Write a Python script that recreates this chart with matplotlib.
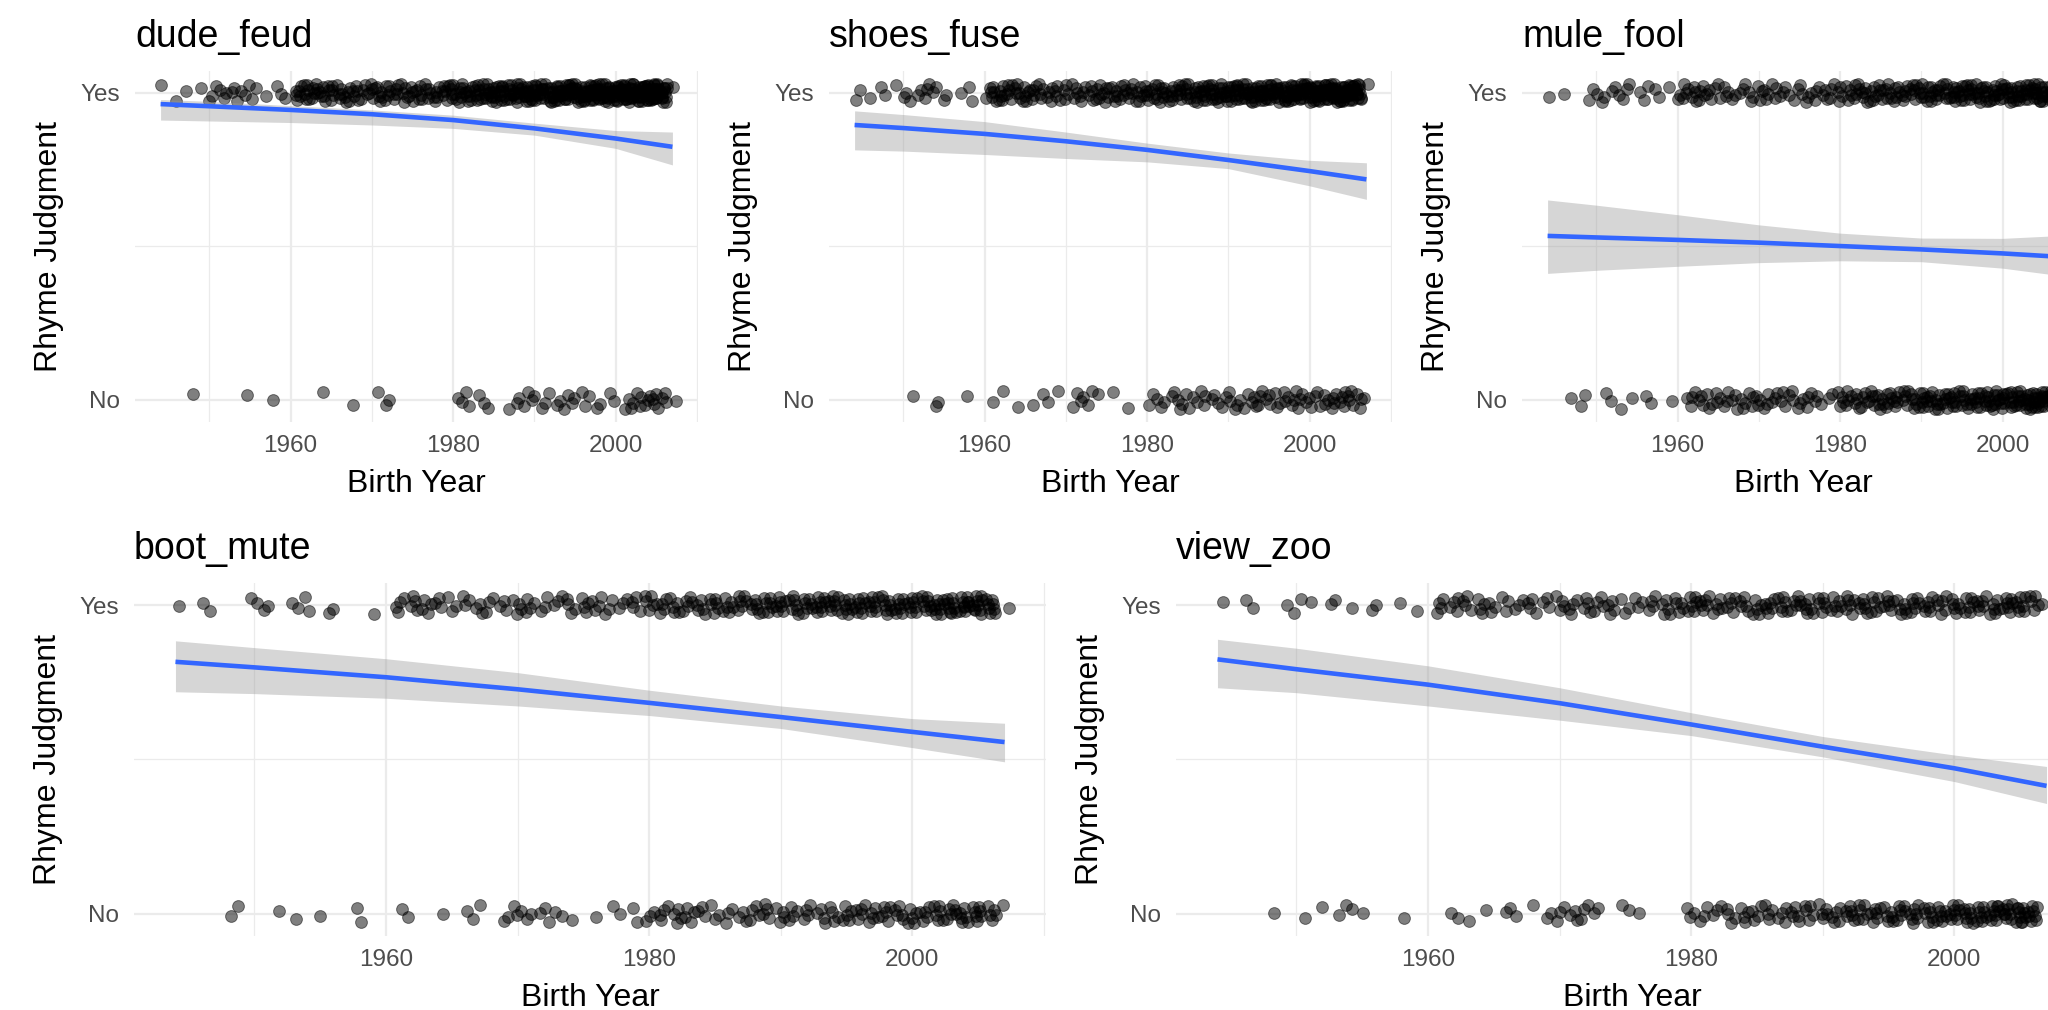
import numpy as np
import matplotlib
matplotlib.use("Agg")
import matplotlib.pyplot as plt
from matplotlib.ticker import FixedLocator, FixedFormatter

plt.rcParams['font.family'] = ['Liberation Sans', 'DejaVu Sans']

# ---------------- data ----------------
years = list(range(1944, 2008))          # birth-year categories (1944 ... 2007)
panels = ["dude_feud", "shoes_fuse", "mule_fool", "boot_mute", "view_zoo"]

# number of "Yes" / "No" answers per birth year (read from the jittered points)
dude_feud_yes = [1,0,1,1,0,1,2,2,2,3,2,2,1,1,1,2,0,
                 6,6,6,5,6,5,5,5,4,5,5,5,5,5,5,5,5,5,6,
                 7,7,7,8,8,9,9,9,9,10,10,10,10,11,11,11,11,12,12,12,
                 12,13,13,14,15,16,12,1]
dude_feud_no = [0,0,0,0,1,0,0,0,0,0,0,1,0,0,1,0,0,
                0,0,0,1,0,0,0,1,0,0,1,2,0,0,0,0,0,0,0,
                0,2,2,1,2,0,0,1,2,2,2,2,1,2,2,2,2,1,2,1,
                1,1,3,3,3,4,3,1]

shoes_fuse_yes = [1,1,1,1,1,1,2,1,2,3,2,2,0,1,2,0,1,
                  6,6,5,5,5,5,4,4,4,4,4,4,4,5,5,5,5,5,5,
                  6,6,6,6,7,7,7,8,8,8,9,9,9,9,10,10,10,10,11,11,
                  11,12,12,13,14,15,11,1]
shoes_fuse_no = [0,0,0,0,0,0,0,1,0,0,2,0,0,0,1,0,0,
                 1,1,0,1,0,1,1,1,1,0,2,2,2,1,0,1,0,1,0,
                 1,2,2,2,3,2,2,3,2,2,3,3,2,3,3,3,3,3,3,3,
                 3,3,3,4,4,4,3,1]

mule_fool_yes = [1,0,1,0,0,1,2,2,2,2,2,1,2,1,1,1,2,
                 4,4,4,3,3,3,2,3,3,3,3,3,3,2,3,3,3,3,3,
                 4,4,5,5,5,5,5,5,5,6,6,6,6,6,7,7,7,7,7,7,
                 7,8,8,8,9,9,7,1]
mule_fool_no = [0,0,0,1,1,1,0,1,1,1,1,0,1,1,0,1,0,
                1,3,3,3,3,3,3,3,3,3,3,3,3,3,3,3,2,1,2,
                4,4,4,4,5,5,5,5,5,5,6,6,6,6,6,6,6,7,7,7,
                7,7,8,8,9,9,7,1]

boot_mute_yes = [1,0,1,1,0,0,2,2,0,2,2,0,2,0,0,1,0,
                 4,4,4,3,3,3,3,3,3,4,4,3,3,4,4,4,3,3,4,
                 5,5,5,5,5,6,6,6,6,7,7,7,7,8,8,8,8,8,8,8,
                 8,8,9,9,10,10,8,1]
boot_mute_no = [0,0,0,0,1,1,0,0,1,1,0,1,0,0,2,0,0,
                1,1,0,1,0,1,2,0,2,3,2,3,2,1,0,1,1,1,2,
                3,4,4,4,3,3,3,3,4,4,4,4,4,4,4,5,5,5,5,5,
                5,5,6,6,6,7,5,1]

view_zoo_yes = [1,0,1,1,0,1,2,1,0,2,1,0,2,0,1,1,0,
                4,4,4,4,3,3,3,4,3,4,4,4,4,4,3,3,4,5,5,
                6,6,5,5,5,5,6,6,6,6,6,6,6,6,6,6,6,6,6,6,
                6,6,6,6,7,7,5,1]
view_zoo_no = [0,0,0,0,1,0,0,1,1,1,2,1,0,0,1,0,0,
               0,2,1,1,0,2,1,1,2,3,3,3,2,0,2,1,0,0,0,
               3,3,3,4,4,4,4,4,5,5,5,5,6,6,6,6,6,7,7,7,
               8,8,8,9,9,10,8,0]

# fitted logistic curve + confidence band, read at these birth years
fit_years = [1944, 1950, 1960, 1970, 1980, 1990, 2000, 2007]
dude_feud_fit = [0.963, 0.956, 0.944, 0.930, 0.911, 0.884, 0.851, 0.824]
dude_feud_hi  = [0.978, 0.972, 0.958, 0.944, 0.927, 0.901, 0.877, 0.872]
dude_feud_lo  = [0.911, 0.908, 0.903, 0.895, 0.884, 0.862, 0.819, 0.765]
shoes_fuse_fit = [0.895, 0.885, 0.866, 0.842, 0.814, 0.781, 0.745, 0.718]
shoes_fuse_hi  = [0.941, 0.929, 0.906, 0.872, 0.836, 0.804, 0.780, 0.772]
shoes_fuse_lo  = [0.814, 0.810, 0.799, 0.786, 0.775, 0.753, 0.697, 0.653]
mule_fool_fit = [0.534, 0.529, 0.521, 0.512, 0.501, 0.490, 0.477, 0.466]
mule_fool_hi  = [0.651, 0.634, 0.603, 0.570, 0.543, 0.527, 0.526, 0.535]
mule_fool_lo  = [0.412, 0.422, 0.435, 0.447, 0.453, 0.450, 0.429, 0.405]
boot_mute_fit = [0.816, 0.798, 0.766, 0.727, 0.683, 0.637, 0.589, 0.556]
boot_mute_hi  = [0.884, 0.862, 0.826, 0.781, 0.724, 0.673, 0.632, 0.617]
boot_mute_lo  = [0.719, 0.713, 0.698, 0.673, 0.642, 0.600, 0.538, 0.492]
view_zoo_fit = [0.824, 0.792, 0.742, 0.682, 0.613, 0.541, 0.471, 0.414]
view_zoo_hi  = [0.889, 0.860, 0.803, 0.732, 0.651, 0.574, 0.514, 0.477]
view_zoo_lo  = [0.732, 0.716, 0.673, 0.627, 0.577, 0.508, 0.428, 0.357]

x_ticks = [1960, 1980, 2000]
x_minor = [1950, 1970, 1990, 2010]
y_ticks = [0, 1]
y_ticklabels = ["No", "Yes"]
x_label = "Birth Year"
y_label = "Rhyme Judgment"

series = {
    "dude_feud": (dude_feud_yes, dude_feud_no, dude_feud_fit, dude_feud_lo, dude_feud_hi),
    "shoes_fuse": (shoes_fuse_yes, shoes_fuse_no, shoes_fuse_fit, shoes_fuse_lo, shoes_fuse_hi),
    "mule_fool": (mule_fool_yes, mule_fool_no, mule_fool_fit, mule_fool_lo, mule_fool_hi),
    "boot_mute": (boot_mute_yes, boot_mute_no, boot_mute_fit, boot_mute_lo, boot_mute_hi),
    "view_zoo": (view_zoo_yes, view_zoo_no, view_zoo_fit, view_zoo_lo, view_zoo_hi),
}

# ---------------- layout (pixels) ----------------
W, H = 2048, 1010
TOP = (70.6, 422.1)
BOT = (582.8, 935.9)
layout = {
    "dude_feud": (135, 698, TOP),
    "shoes_fuse": (829, 1392, TOP),
    "mule_fool": (1522, 2085, TOP),
    "boot_mute": (134, 1046, BOT),
    "view_zoo": (1176, 2088, BOT),
}

fig = plt.figure(figsize=(W / 100, H / 100), dpi=100)
fig.patch.set_facecolor("white")

GRID = "#EBEBEB"
TICKC = "#4D4D4D"


def jitter(counts, level, phase):
    """ggplot-style jitter (deterministic): +-0.4 year, small vertical spread."""
    xs, ys = [], []
    for yr, n in zip(years, counts):
        for k in range(n):
            u = (k * 0.6180339887 + yr * 0.3819660113 + phase) % 1.0
            v = (k * 0.7548776662 + yr * 0.5698402910 + phase * 1.7 + 0.13) % 1.0
            xs.append(yr + 0.8 * (u - 0.5))
            ys.append(level + 0.06 * (v - 0.5))
    return xs, ys


for i, name in enumerate(panels):
    x0, x1, (yt, yb) = layout[name]
    ax = fig.add_axes([x0 / W, 1 - yb / H, (x1 - x0) / W, (yb - yt) / H])
    yes, no, fit, lo, hi = series[name]

    ax.set_xlim(1940.85, 2010.15)
    ax.set_ylim(-0.072, 1.072)
    for s in ax.spines.values():
        s.set_visible(False)
    ax.set_facecolor("white")

    ax.xaxis.set_major_locator(FixedLocator(x_ticks))
    ax.xaxis.set_minor_locator(FixedLocator(x_minor))
    ax.yaxis.set_major_locator(FixedLocator(y_ticks))
    ax.yaxis.set_major_formatter(FixedFormatter(y_ticklabels))
    ax.yaxis.set_minor_locator(FixedLocator([0.5]))
    ax.grid(which="major", color=GRID, lw=1.6)
    ax.grid(which="minor", color=GRID, lw=0.9)
    ax.set_axisbelow(True)
    ax.tick_params(which="both", length=0)
    ax.tick_params(axis="x", labelsize=17.5, labelcolor=TICKC, pad=9.5)
    ax.tick_params(axis="y", labelsize=17.5, labelcolor=TICKC, pad=11)

    xs, ys = jitter(yes, 1.0, 0.11 * i)
    ax.scatter(xs, ys, s=72, c="black", alpha=0.5, edgecolors="black",
               linewidths=0.7, zorder=2)
    xs, ys = jitter(no, 0.0, 0.37 + 0.11 * i)
    ax.scatter(xs, ys, s=72, c="black", alpha=0.5, edgecolors="black",
               linewidths=0.7, zorder=2)

    ax.fill_between(fit_years, lo, hi, color="#999999", alpha=0.4, lw=0, zorder=3)
    ax.plot(fit_years, fit, color="#3366FF", lw=3.3, zorder=4, solid_capstyle="butt")

    # titles and axis titles
    fig.text(x0 / W, 1 - (yt - 23.6) / H, name, ha="left", va="baseline",
             fontsize=27, color="black")
    fig.text((x0 + x1) / 2 / W, 1 - (yb + 70) / H, x_label, ha="center",
             va="baseline", fontsize=23, color="black")
    fig.text((x0 - 86) / W, 1 - (yt + yb) / 2 / H, y_label, ha="center",
             va="center", rotation=90, fontsize=23, color="black")

fig.savefig("out.png", dpi=100, facecolor="white")
